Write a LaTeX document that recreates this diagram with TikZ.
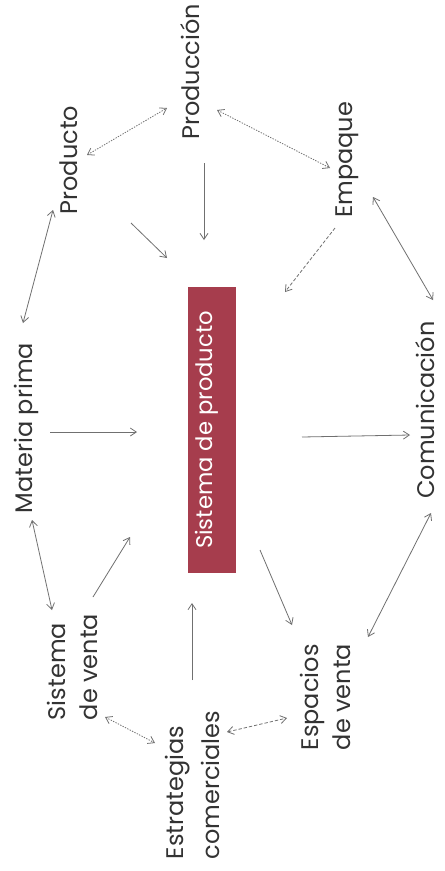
\documentclass[tikz,border=0pt]{standalone}
\usepackage{fontspec}
\setmainfont{Poppins}
\usetikzlibrary{arrows.meta}
\definecolor{boxred}{HTML}{A63D4D}
\definecolor{lblgray}{HTML}{333333}
\definecolor{arrgray}{HTML}{707070}
\begin{document}
\begin{tikzpicture}[x=0.75pt,y=-0.75pt,
  lbl/.style={rotate=90, font=\fontsize{18}{24}\selectfont, text=lblgray, inner sep=0pt, align=left},
  conn/.style={draw=arrgray, line width=0.6pt, -{Straight Barb[length=4.5pt,width=6pt]}},
  dconn/.style={conn, {Straight Barb[length=4.5pt,width=6pt]}-{Straight Barb[length=4.5pt,width=6pt]}},
  dotline/.style={dash pattern=on 1pt off 1pt},
  dashline/.style={dash pattern=on 2.5pt off 1.5pt}]
\useasboundingbox (0,0) rectangle (444,871);
\fill[white] (0,0) rectangle (444,871);
% central box
\node[fill=boxred, minimum width=36pt, minimum height=214.5pt, inner sep=0pt] (sp) at (212,430) {};
\node[rotate=90, text=white, font=\fontsize{17}{20}\selectfont, inner sep=0pt] (spt) at (207,430) {Sistema de producto};
% labels
\node[lbl] (prod) at (190,72) {Producción};
\node[lbl] (prd) at (69,160) {Producto};
\node[lbl] (emp) at (347,160) {Empaque};
\node[lbl] (mat) at (26,428) {Materia prima};
\node[lbl] (com) at (425,410) {Comunicación};
\node[lbl] (sv) at (72,667) {Sistema\\de venta};
\node[lbl, font=\fontsize{18}{27}\selectfont] (est) at (192,785) {Estrategias\\comerciales};
\node[lbl] (esp) at (325,697) {Espacios\\de venta};
% connector end points
\coordinate (a1) at (87,155);  \coordinate (b1) at (167,108);
\coordinate (a2) at (217,110); \coordinate (b2) at (330,168);
\coordinate (a3) at (204,163); \coordinate (b3) at (204,240);
\coordinate (a4) at (131,223); \coordinate (b4) at (167,258);
\coordinate (a5) at (335,228); \coordinate (b5) at (285,292);
\coordinate (a6) at (373,197); \coordinate (b6) at (433,300);
\coordinate (a7) at (53,210);  \coordinate (b7) at (23,323);
\coordinate (a8) at (50,432);  \coordinate (b8) at (137,432);
\coordinate (a9) at (302,437); \coordinate (b9) at (410,435);
\coordinate (a10) at (32,520); \coordinate (b10) at (52,610);
\coordinate (a11) at (93,597); \coordinate (b11) at (130,537);
\coordinate (a12) at (260,550); \coordinate (b12) at (292,625);
\coordinate (a13) at (431,513); \coordinate (b13) at (368,637);
\coordinate (a14) at (192,680); \coordinate (b14) at (192,603);
\coordinate (a15) at (105,717); \coordinate (b15) at (155,743);
\coordinate (a16) at (227,732); \coordinate (b16) at (287,718);
% connectors
\draw[dconn, dotline] (a1) -- (b1);
\draw[dconn, dotline] (a2) -- (b2);
\draw[conn] (a3) -- (b3);
\draw[conn] (a4) -- (b4);
\draw[conn, dashline] (a5) -- (b5);
\draw[dconn] (a6) -- (b6);
\draw[dconn] (a7) -- (b7);
\draw[conn] (a8) -- (b8);
\draw[conn] (a9) -- (b9);
\draw[dconn] (a10) -- (b10);
\draw[conn] (a11) -- (b11);
\draw[conn] (a12) -- (b12);
\draw[dconn] (a13) -- (b13);
\draw[conn] (a14) -- (b14);
\draw[dconn, dotline] (a15) -- (b15);
\draw[dconn, dashline] (a16) -- (b16);
\end{tikzpicture}
\end{document}
